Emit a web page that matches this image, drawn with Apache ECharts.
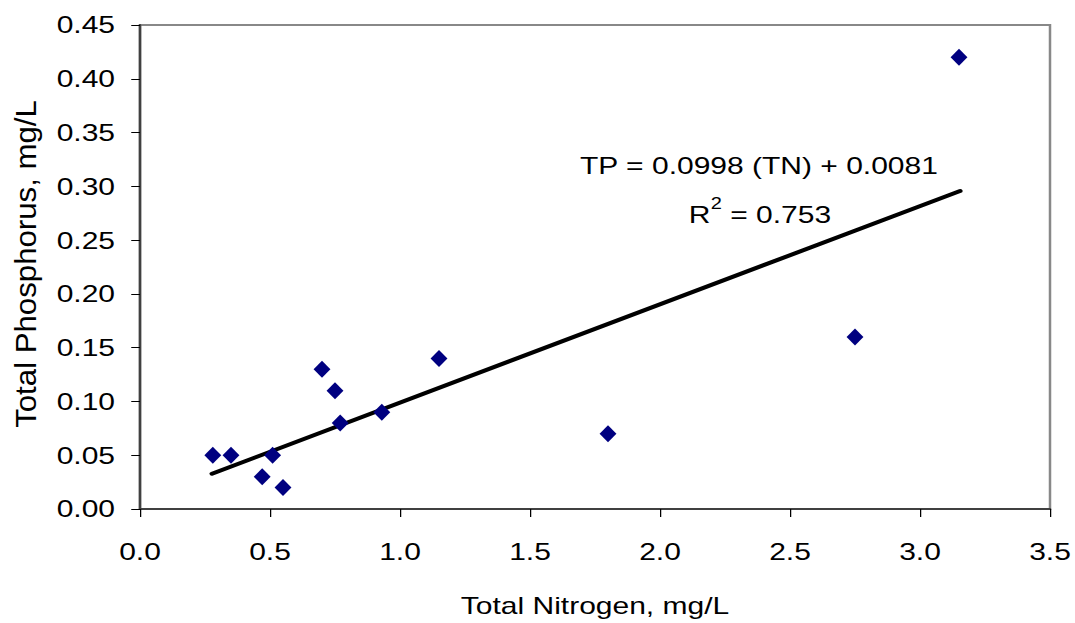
<!DOCTYPE html>
<html>
<head>
<meta charset="utf-8">
<script src="https://cdn.jsdelivr.net/npm/echarts@6/dist/echarts.min.js"></script>
<style>
  html, body { margin: 0; padding: 0; background: #fff; overflow: hidden; }
  /* the reference text is drawn wide, so the chart is stretched sideways */
  #chart { width: 860px; height: 623px; transform: scaleX(1.25); transform-origin: 0 0; }
</style>
</head>
<body>
<div id="chart"></div>
<script>
// TN vs TP samples (mg/L)
const nitrogen = [0.28, 0.35, 0.47, 0.51, 0.55, 0.70, 0.75, 0.77, 0.93, 1.15, 1.80, 2.75, 3.15]
const phosphorus = [0.05, 0.05, 0.03, 0.05, 0.02, 0.13, 0.11, 0.08, 0.09, 0.14, 0.07, 0.16, 0.42]
// trend line end points as drawn
const trendX = [0.277, 3.154]
const trendY = [0.0328, 0.2957]
const equationText = 'TP = 0.0998 (TN) + 0.0081'
const r2Value = '0.753'

const STRETCH = 1.25
const font = 'Liberation Sans, Arial, sans-serif'
const chart = echarts.init(document.getElementById('chart'), null, { renderer: 'svg' })

chart.setOption({
  animation: false,
  backgroundColor: '#fff',
  grid: {
    left: 112,
    right: 20,
    top: 25,
    bottom: 113,
    show: true,
    borderColor: '#888',
    borderWidth: 2
  },
  xAxis: {
    type: 'value',
    min: 0,
    max: 3.5,
    interval: 0.5,
    name: 'Total Nitrogen, mg/L',
    nameLocation: 'middle',
    nameGap: 85,
    nameTextStyle: { fontFamily: font, fontSize: 24, color: '#000' },
    axisLine: { show: true, lineStyle: { color: '#404040', width: 2 } },
    axisTick: { show: true, length: 8, lineStyle: { color: '#000', width: 1 } },
    axisLabel: {
      margin: 31,
      fontFamily: font,
      fontSize: 24,
      color: '#000',
      formatter: v => v.toFixed(1)
    },
    splitLine: { show: false }
  },
  yAxis: {
    type: 'value',
    min: 0,
    max: 0.45,
    interval: 0.05,
    axisLine: { show: true, lineStyle: { color: '#404040', width: 2 } },
    axisTick: { show: true, length: 7, lineStyle: { color: '#000', width: 1 } },
    axisLabel: {
      margin: 20,
      fontFamily: font,
      fontSize: 24,
      color: '#000',
      formatter: v => v.toFixed(2)
    },
    splitLine: { show: false }
  },
  graphic: [
    {
      // y title: undo the sideways stretch so it keeps its own shape
      type: 'text',
      x: 20,
      y: 264,
      rotation: Math.PI / 2,
      scaleX: 1.04,
      scaleY: 1 / STRETCH,
      style: {
        text: 'Total Phosphorus, mg/L',
        font: '30px ' + font,
        fill: '#000',
        align: 'center',
        verticalAlign: 'middle'
      }
    },
    {
      type: 'text',
      left: 464,
      top: 154,
      style: { text: equationText, font: '24px ' + font, fill: '#000' }
    },
    {
      type: 'text',
      left: 551,
      top: 203,
      style: { text: 'R', font: '24px ' + font, fill: '#000' }
    },
    {
      type: 'text',
      left: 568.5,
      top: 196,
      style: { text: '2', font: '16px ' + font, fill: '#000' }
    },
    {
      type: 'text',
      left: 577.5,
      top: 203,
      style: { text: ' = ' + r2Value, font: '24px ' + font, fill: '#000' }
    }
  ],
  series: [
    {
      type: 'scatter',
      data: nitrogen.map((x, i) => [x, phosphorus[i]]),
      symbol: 'diamond',
      symbolSize: [13.5, 17],
      itemStyle: { color: '#000080', opacity: 1 },
      z: 3
    },
    {
      type: 'line',
      data: trendX.map((x, i) => [x, trendY[i]]),
      showSymbol: false,
      symbol: 'none',
      lineStyle: { color: '#000', width: 4, cap: 'round' },
      z: 2
    }
  ]
})
</script>
</body>
</html>
